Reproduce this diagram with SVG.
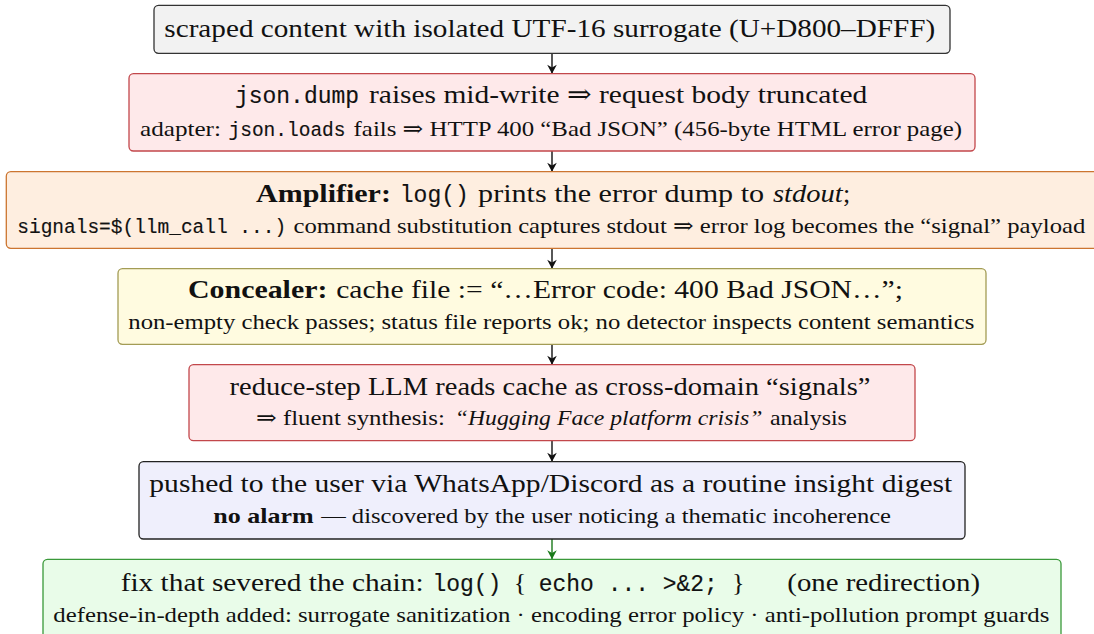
<svg xmlns="http://www.w3.org/2000/svg" width="1094" height="634" viewBox="0 0 1094 634">
<defs>
<style>
.box{stroke-width:1.3}
text{fill:#111}
.r{font-family:"Liberation Serif","DejaVu Serif",serif}
.b{font-family:"Liberation Serif","DejaVu Serif",serif;font-weight:bold}
.i{font-family:"Liberation Serif","DejaVu Serif",serif;font-style:italic}
.tt{font-family:"Liberation Mono","DejaVu Sans Mono",monospace;stroke:#111;stroke-width:0.15}
.m{font-size:26px}
.s{font-size:21.5px}
.tt.m{font-size:23px}
.tt.s{font-size:19.5px}
.conn{fill:none;stroke:#111;stroke-width:1.4}
</style>
<marker id="ah" viewBox="-10 -6 12 12" refX="0" refY="0" markerWidth="12" markerHeight="12" markerUnits="userSpaceOnUse" orient="auto">
<path d="M0,0 L-9,-4.8 L-6.3,0 L-9,4.8 Z" fill="#111"/>
</marker>
<marker id="ahg" viewBox="-10 -6 12 12" refX="0" refY="0" markerWidth="12" markerHeight="12" markerUnits="userSpaceOnUse" orient="auto">
<path d="M0,0 L-9,-4.8 L-6.3,0 L-9,4.8 Z" fill="#1a7a1a"/>
</marker>
</defs>
<rect width="1094" height="634" fill="#ffffff"/>

<g id="connectors">
<line class="conn" x1="552" y1="53.5" x2="552" y2="73.7" marker-end="url(#ah)"/>
<line class="conn" x1="552" y1="151" x2="552" y2="171.7" marker-end="url(#ah)"/>
<line class="conn" x1="552" y1="248.3" x2="552" y2="268.7" marker-end="url(#ah)"/>
<line class="conn" x1="552" y1="344.3" x2="552" y2="364.7" marker-end="url(#ah)"/>
<line class="conn" x1="552" y1="440.7" x2="552" y2="461.7" marker-end="url(#ah)"/>
<line class="conn" x1="552" y1="539" x2="552" y2="559.3" style="stroke:#1a7a1a" marker-end="url(#ahg)"/>
</g>

<g id="n1">
<rect class="box" x="154" y="5.4" width="796" height="47.9" rx="4.5" fill="#f2f2f2" stroke="#333333"/>
<text class="r m" x="164.3" y="36.7" textLength="771" lengthAdjust="spacingAndGlyphs">scraped content with isolated UTF-16 surrogate (U+D800–DFFF)</text>
</g>

<g id="n2">
<rect class="box" x="129" y="73.7" width="846" height="77.3" rx="4.5" fill="#fee9ea" stroke="#c2474b"/>
<text class="tt m" x="235" y="103" textLength="124" lengthAdjust="spacingAndGlyphs">json.dump</text>
<text class="r m" x="369" y="103" textLength="498.3" lengthAdjust="spacingAndGlyphs">raises mid-write ⇒ request body truncated</text>
<text class="r s" x="140" y="135.5" textLength="81" lengthAdjust="spacingAndGlyphs">adapter:</text>
<text class="tt s" x="228.5" y="135.5" textLength="117" lengthAdjust="spacingAndGlyphs">json.loads</text>
<text class="r s" x="353.6" y="135.5" textLength="608.4" lengthAdjust="spacingAndGlyphs">fails ⇒ HTTP 400 “Bad JSON” (456-byte HTML error page)</text>
</g>

<g id="n3">
<rect class="box" x="6.3" y="171.7" width="1092" height="76.6" rx="4.5" fill="#feeee0" stroke="#cc7530"/>
<text class="b m" x="256" y="201.5" textLength="134.9" lengthAdjust="spacingAndGlyphs">Amplifier:</text>
<text class="tt m" x="399.8" y="201.5" textLength="69" lengthAdjust="spacingAndGlyphs">log()</text>
<text class="r m" x="478.1" y="201.5" textLength="286" lengthAdjust="spacingAndGlyphs">prints the error dump to</text>
<text class="i m" x="772.9" y="201.5" textLength="69.7" lengthAdjust="spacingAndGlyphs">stdout</text>
<text class="r m" x="843" y="201.5">;</text>
<text class="tt s" x="17.3" y="232.5" textLength="268.8" lengthAdjust="spacingAndGlyphs">signals=$(llm_call ...)</text>
<text class="r s" x="293.5" y="232.5" textLength="791.8" lengthAdjust="spacingAndGlyphs">command substitution captures stdout ⇒ error log becomes the “signal” payload</text>
</g>

<g id="n4">
<rect class="box" x="118" y="268.7" width="868" height="75.6" rx="4.5" fill="#fffbe0" stroke="#a39c55"/>
<text class="b m" x="188" y="297.5" textLength="139.4" lengthAdjust="spacingAndGlyphs">Concealer:</text>
<text class="r m" x="336.2" y="297.5" textLength="566.8" lengthAdjust="spacingAndGlyphs">cache file := “…Error code: 400 Bad JSON…”;</text>
<text class="r s" x="128.3" y="329" textLength="846" lengthAdjust="spacingAndGlyphs">non-empty check passes; status file reports ok; no detector inspects content semantics</text>
</g>

<g id="n5">
<rect class="box" x="189" y="364.7" width="726" height="76" rx="4.5" fill="#fee9ea" stroke="#c2474b"/>
<text class="r m" x="229.5" y="395" textLength="641" lengthAdjust="spacingAndGlyphs">reduce-step LLM reads cache as cross-domain “signals”</text>
<text class="r s" x="256" y="425" textLength="188.8" lengthAdjust="spacingAndGlyphs">⇒ fluent synthesis:</text>
<text class="i s" x="454.8" y="425" textLength="307.6" lengthAdjust="spacingAndGlyphs">“Hugging Face platform crisis”</text>
<text class="r s" x="769.9" y="425" textLength="77" lengthAdjust="spacingAndGlyphs">analysis</text>
</g>

<g id="n6">
<rect class="box" x="139" y="461.7" width="826" height="77.3" rx="4.5" fill="#efeffc" stroke="#222222"/>
<text class="r m" x="149.3" y="492" textLength="803" lengthAdjust="spacingAndGlyphs">pushed to the user via WhatsApp/Discord as a routine insight digest</text>
<text class="b s" x="213.3" y="523.3" textLength="100.4" lengthAdjust="spacingAndGlyphs">no alarm</text>
<text class="r s" x="321.2" y="523.3" textLength="569.8" lengthAdjust="spacingAndGlyphs">— discovered by the user noticing a thematic incoherence</text>
</g>

<g id="n7">
<rect class="box" x="43" y="559.3" width="1018" height="80" rx="4.5" fill="#e9fce9" stroke="#3a993a"/>
<text class="r m" x="120.7" y="590.7" textLength="302.9" lengthAdjust="spacingAndGlyphs">fix that severed the chain:</text>
<text class="tt m" x="432.4" y="590.7" textLength="69" lengthAdjust="spacingAndGlyphs">log()</text>
<text class="r m" x="513.7" y="590.7">{</text>
<text class="tt m" x="538.8" y="590.7" textLength="179" lengthAdjust="spacingAndGlyphs">echo ... &gt;&amp;2;</text>
<text class="r m" x="732" y="590.7">}</text>
<text class="r m" x="787.3" y="590.7" textLength="192.7" lengthAdjust="spacingAndGlyphs">(one redirection)</text>
<text class="r s" x="53.3" y="621.7" textLength="996" lengthAdjust="spacingAndGlyphs">defense-in-depth added: surrogate sanitization · encoding error policy · anti-pollution prompt guards</text>
</g>
</svg>
